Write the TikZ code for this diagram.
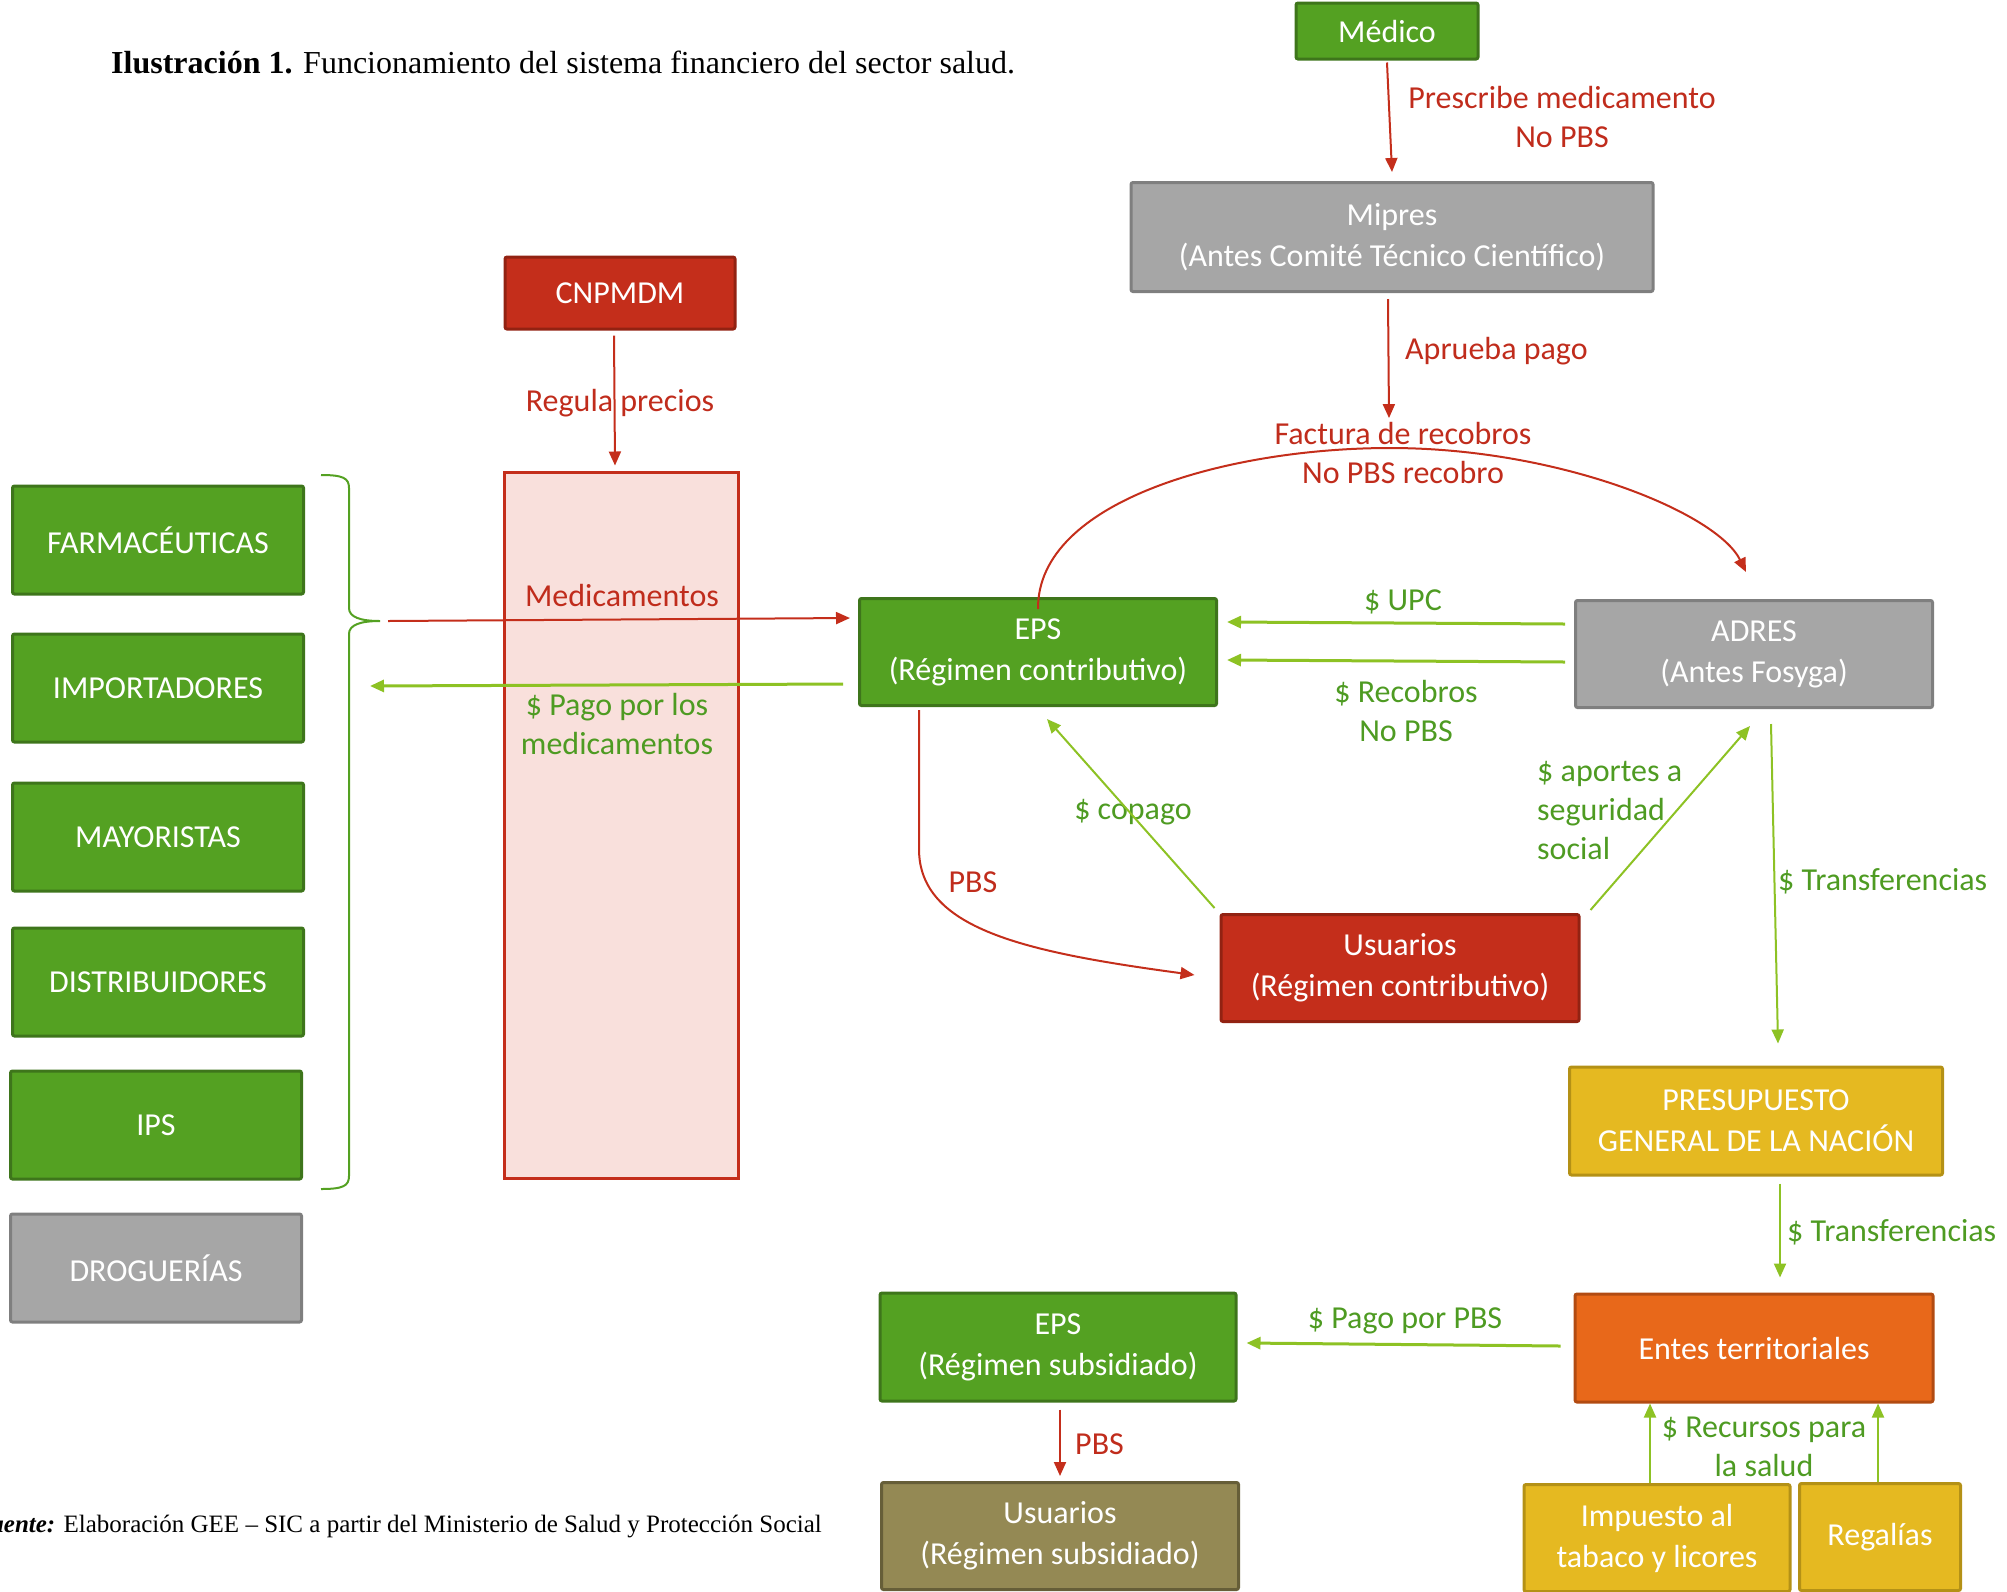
\documentclass[tikz,border=0pt]{standalone}
\usepackage{fontspec}
\setmainfont{Carlito}
\newfontfamily\serifa{Liberation Serif}
\usepackage{xcolor}
\usetikzlibrary{arrows.meta}

\definecolor{verde}{RGB}{84,161,34}
\definecolor{verdeborde}{RGB}{62,117,27}
\definecolor{gris}{RGB}{166,166,166}
\definecolor{grisborde}{RGB}{127,127,127}
\definecolor{rojo}{RGB}{196,46,27}
\definecolor{rojoborde}{RGB}{146,34,18}
\definecolor{rosa}{RGB}{249,224,220}
\definecolor{amarillo}{RGB}{229,185,33}
\definecolor{amarilloborde}{RGB}{180,145,22}
\definecolor{naranja}{RGB}{232,104,26}
\definecolor{naranjaborde}{RGB}{178,75,18}
\definecolor{oliva}{RGB}{148,137,84}
\definecolor{olivaborde}{RGB}{102,94,56}
\definecolor{verdeflecha}{RGB}{141,194,36}
\definecolor{verdetexto}{RGB}{78,155,34}
\definecolor{rojotexto}{RGB}{192,44,28}

\tikzset{
  caja/.style={line width=3pt, rounded corners=2pt, text=white, align=center, inner sep=0pt, font=\fontsize{32}{41}\selectfont},
  cajaverde/.style={caja, fill=verde, draw=verdeborde},
  cajagris/.style={caja, fill=gris, draw=grisborde},
  cajaroja/.style={caja, fill=rojo, draw=rojoborde},
  cajaamarilla/.style={caja, fill=amarillo, draw=amarilloborde},
  cajanaranja/.style={caja, fill=naranja, draw=naranjaborde},
  cajaoliva/.style={caja, fill=oliva, draw=olivaborde},
  etiqueta/.style={align=center, inner sep=0pt, font=\fontsize{32}{39}\selectfont},
  etqroja/.style={etiqueta, text=rojotexto},
  etqverde/.style={etiqueta, text=verdetexto},
  flecharoja/.style={draw=rojo, line width=2pt, -{Triangle[length=14pt,width=12pt]}},
  flechaverde/.style={draw=verdeflecha, line width=2pt, -{Triangle[length=14pt,width=12pt]}},
}

\begin{document}
\begin{tikzpicture}[x=1pt, y=-1pt]
    \useasboundingbox (0,0) rectangle (2007,1591);

    % titulo y fuente
    \node[anchor=base west, inner sep=0pt, font=\serifa\fontsize{32}{38}\selectfont] (titulo) at (111,73) {\textbf{Ilustración 1.} Funcionamiento del sistema financiero del sector salud.};
    \node[anchor=base east, inner sep=0pt, font=\serifa\fontsize{25}{30}\selectfont] (fuente) at (822,1532) {\textbf{\textit{Fuente:}} Elaboración GEE – SIC a partir del Ministerio de Salud y Protección Social};

    % cajas de arriba
    \node[cajaverde, minimum width=182pt, minimum height=56pt] (medico) at (1387,31) {Médico};
    \node[cajagris, minimum width=522pt, minimum height=109pt] (mipres) at (1392,237) {Mipres\\(Antes Comité Técnico Científico)};
    \node[cajaroja, minimum width=230pt, minimum height=72pt] (cnpmdm) at (620,293) {CNPMDM};
    \node[draw=rojo, fill=rosa, line width=3pt, minimum width=234pt, minimum height=706pt] (precios) at (621,825) {};

    % proveedores
    \node[cajaverde, minimum width=291pt, minimum height=108pt] (farma) at (158,540) {FARMACÉUTICAS};
    \node[cajaverde, minimum width=291pt, minimum height=108pt] (importadores) at (158,688) {IMPORTADORES};
    \node[cajaverde, minimum width=291pt, minimum height=108pt] (mayoristas) at (158,837) {MAYORISTAS};
    \node[cajaverde, minimum width=291pt, minimum height=108pt] (distribuidores) at (158,982) {DISTRIBUIDORES};
    \node[cajaverde, minimum width=291pt, minimum height=108pt] (ips) at (156,1125) {IPS};
    \node[cajagris, minimum width=291pt, minimum height=108pt] (droguerias) at (156,1268) {DROGUERÍAS};

    % regimen contributivo
    \node[cajaverde, minimum width=357pt, minimum height=107pt] (epsc) at (1038,652) {EPS\\(Régimen contributivo)};
    \node[cajagris, minimum width=357pt, minimum height=107pt] (adres) at (1754,654) {ADRES\\(Antes Fosyga)};
    \node[cajaroja, minimum width=358pt, minimum height=107pt] (usuc) at (1400,968) {Usuarios\\(Régimen contributivo)};

    % regimen subsidiado
    \node[cajaamarilla, minimum width=373pt, minimum height=108pt] (pgn) at (1756,1121) {PRESUPUESTO\\GENERAL DE LA NACIÓN};
    \node[cajanaranja, minimum width=358pt, minimum height=108pt] (entes) at (1754,1348) {Entes territoriales};
    \node[cajaverde, minimum width=356pt, minimum height=108pt] (epss) at (1058,1347) {EPS\\(Régimen subsidiado)};
    \node[cajaoliva, minimum width=357pt, minimum height=107pt] (usus) at (1060,1536) {Usuarios\\(Régimen subsidiado)};
    \node[cajaamarilla, minimum width=266pt, minimum height=107pt] (impuesto) at (1657,1538) {Impuesto al\\tabaco y licores};
    \node[cajaamarilla, minimum width=161pt, minimum height=107pt] (regalias) at (1880,1537) {Regalías};

    % llave
    \draw[draw=verde, line width=2pt] (321,475) .. controls (343,475) and (349,478) .. (349,488) -- (349,608) .. controls (349,617) and (360,621) .. (380,621) .. controls (360,621) and (349,625) .. (349,634) -- (349,1176) .. controls (349,1186) and (343,1189) .. (321,1189);
    \coordinate (llave) at (380,621);

    % etiquetas
    \node[etqroja] (prescribe) at (1562,117) {Prescribe medicamento\\No PBS};
    \node[etqroja, anchor=west] (aprueba) at (1405,351) {Aprueba pago};
    \node[etqroja] (factura) at (1403,453) {Factura de recobros\\No PBS recobro};
    \node[etqroja] (regula) at (620,403) {Regula precios};
    \node[etqroja] (medicamentos) at (622,595) {Medicamentos};
    \node[etqverde] (pagomed) at (617,724) {\$ Pago por los\\medicamentos};
    \node[etqverde] (upc) at (1403,602) {\$ UPC};
    \node[etqverde] (recobros) at (1406,711) {\$ Recobros\\No PBS};
    \node[etqverde] (copago) at (1133,812) {\$ copago};
    \node[etqverde, align=left, anchor=west] (aportes) at (1537,810) {\$ aportes a\\seguridad\\social};
    \node[etqroja] (pbsc) at (973,882) {PBS};
    \node[etqverde, anchor=west] (transf) at (1778,881) {\$ Transferencias};
    \node[etqverde, anchor=west] (transfdos) at (1787,1232) {\$ Transferencias};
    \node[etqverde] (pagopbs) at (1405,1321) {\$ Pago por PBS};
    \node[etqroja, anchor=west] (pbss) at (1075,1444) {PBS};
    \node[etqverde] (recursos) at (1764,1447) {\$ Recursos para\\la salud};

    % flechas rojas
    \draw[flecharoja] ([yshift=-2pt]medico.south) -- ([yshift=9pt]mipres.north);
    \draw[flecharoja] ([xshift=-4pt,yshift=-6pt]mipres.south) -- ([xshift=-14pt,yshift=4pt]factura.north);
    \draw[flecharoja] ([xshift=-6pt,yshift=-5pt]cnpmdm.south) -- ([xshift=-6pt,yshift=5pt]precios.north);
    \draw[flecharoja] ([xshift=8pt]llave) -- ([xshift=-8pt,yshift=34pt]epsc.west);
    \draw[flecharoja] ([yshift=-12pt]epsc.north) .. controls (1037,500) and (1230,448) .. (1390,448) .. controls (1560,448) and (1717,513) .. ([xshift=-8pt,yshift=27pt]adres.north);
    \draw[flecharoja] ([xshift=61pt,yshift=-3pt]epsc.south west) -- ++(0,139) .. controls +(0,80) and +(-170,-23) .. ([xshift=-25pt,yshift=-7pt]usuc.west);
    \draw[flecharoja] ([xshift=2pt,yshift=-7pt]epss.south) -- ([yshift=5pt]usus.north);

    % flechas verdes
    \draw[flechaverde, line width=3pt] ([xshift=-15pt,yshift=-32pt]epsc.west) -- ([xshift=-10pt,yshift=-65pt]llave);
    \draw[flechaverde, line width=3pt] ([xshift=-9pt,yshift=30pt]adres.west) -- ([xshift=9pt,yshift=30pt]epsc.east);
    \draw[flechaverde, line width=3pt] ([xshift=-9pt,yshift=-8pt]adres.west) -- ([xshift=9pt,yshift=-8pt]epsc.east);
    \draw[flechaverde] ([xshift=-5pt,yshift=5pt]usuc.north west) -- ([xshift=9pt,yshift=-12pt]epsc.south);
    \draw[flechaverde] ([xshift=10pt,yshift=3pt]usuc.north east) -- ([xshift=-4pt,yshift=-17pt]adres.south);
    \draw[flechaverde] ([xshift=17pt,yshift=-15pt]adres.south) -- ([xshift=22pt,yshift=22pt]pgn.north);
    \draw[flechaverde] ([xshift=24pt,yshift=-7pt]pgn.south) -- ([xshift=26pt,yshift=15pt]entes.north);
    \draw[flechaverde, line width=3pt] ([xshift=-13pt,yshift=2pt]entes.west) -- ([xshift=9pt,yshift=4pt]epss.east);
    \draw[flechaverde] ([xshift=-7pt]impuesto.north) -- ([xshift=-104pt]entes.south);
    \draw[flechaverde] ([xshift=-2pt]regalias.north) -- ([xshift=124pt]entes.south);
\end{tikzpicture}
\end{document}
